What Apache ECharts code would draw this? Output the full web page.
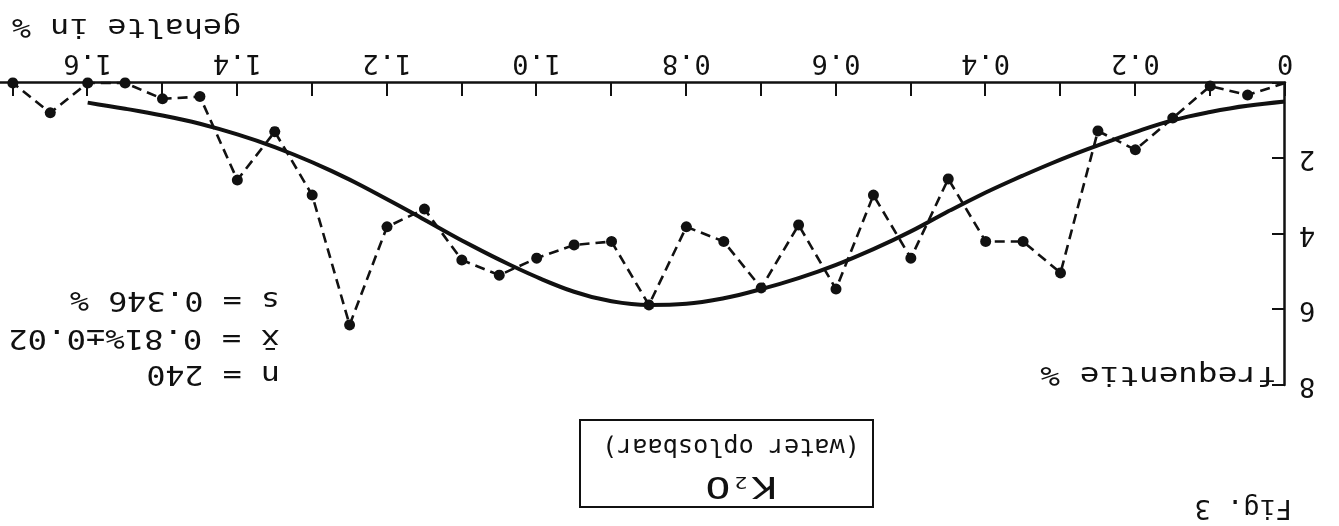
<!DOCTYPE html>
<html>
<head>
<meta charset="utf-8">
<script src="https://cdn.jsdelivr.net/npm/echarts@6/dist/echarts.min.js"></script>
<style>
html,body{margin:0;padding:0;background:#fff;overflow:hidden;}
#c{width:1339px;height:526px;transform:rotate(180deg);}
</style>
</head>
<body>
<div id="c"></div>
<script>
// Observed class midpoints (gehalte in %) and frequencies (%)
const classMid = [0,0.05,0.10,0.15,0.20,0.25,0.30,0.35,0.40,0.45,0.50,0.55,0.60,0.65,0.70,0.75,0.80,0.85,0.90,0.95,1.00,1.05,1.10,1.15,1.20,1.25,1.30,1.35,1.40,1.45,1.50,1.55,1.60,1.65,1.70];
const freq = [0,0.32,0.08,0.93,1.77,1.27,5.03,4.2,4.2,2.54,4.64,2.97,5.46,3.76,5.43,4.2,3.81,5.88,4.2,4.29,4.64,5.09,4.69,3.34,3.81,6.41,2.97,1.29,2.57,0.36,0.42,0,0,0.79,0];
// Fitted curve
const curveX = [0,0.05,0.10,0.15,0.20,0.25,0.30,0.35,0.40,0.45,0.50,0.55,0.60,0.65,0.70,0.75,0.80,0.85,0.90,0.95,1.00,1.05,1.10,1.15,1.20,1.25,1.30,1.35,1.40,1.45,1.50,1.55,1.60];
const curveY = [0.49,0.6,0.77,0.99,1.3,1.65,2.03,2.45,2.9,3.4,3.93,4.4,4.82,5.17,5.46,5.7,5.85,5.88,5.78,5.53,5.14,4.68,4.17,3.62,3.08,2.56,2.1,1.7,1.36,1.08,0.86,0.68,0.52];
// Tick labels
const xTickLabels = ['0','0.2','0.4','0.6','0.8','1.0','1.2','1.4','1.6'];
const yTickLabels = ['2','4','6','8'];
// Texts
const xName = 'gehalte in %';
const yName = 'frequentie %';
const statLines = ['n = 240', 'x\u0304 = 0.81%\u00b10.02', 's = 0.346 %'];
const boxTitle = ['K', '2', 'O'];
const boxSub = '(water oplosbaar)';
const figLabel = 'Fig. 3';

const FF = '"DejaVu Sans Mono", monospace';
const INK = '#111';

const chart = echarts.init(document.getElementById('c'), null, {renderer: 'canvas'});

function txt(text, x, y, size, align, sx) {
  return {
    type: 'text', x: x, y: y, scaleX: sx || 1, z: 10,
    style: {
      text: text, fontSize: size, fontFamily: FF, fill: INK,
      align: align, textAlign: align, verticalAlign: 'middle', textVerticalAlign: 'middle'
    }
  };
}

const option = {
  backgroundColor: '#fff',
  animation: false,
  grid: {left: 54, right: -62, top: 141, bottom: 83, outerBoundsMode: 'none', containLabel: false},
  xAxis: {
    type: 'value', min: 0, max: 1.8, interval: 0.1,
    axisLine: {show: true, lineStyle: {color: INK, width: 2.5}},
    axisTick: {show: true, inside: true, length: 13, lineStyle: {color: INK, width: 2}},
    axisLabel: {
      margin: 7, fontSize: 27, fontFamily: FF, color: INK,
      formatter: function (v) {
        const k = Math.round(v * 10);
        if (Math.abs(v * 10 - k) > 1e-6 || k % 2 !== 0) return '';
        return xTickLabels[k / 2] || '';
      }
    },
    splitLine: {show: false}
  },
  yAxis: {
    type: 'value', min: 0, max: 8, interval: 2,
    axisLine: {show: true, lineStyle: {color: INK, width: 2.5}},
    axisTick: {show: true, inside: true, length: 13, lineStyle: {color: INK, width: 2}},
    axisLabel: {
      margin: 14, fontSize: 27, fontFamily: FF, color: INK,
      formatter: function (v) {
        const k = Math.round(v / 2);
        return k === 0 ? '' : (yTickLabels[k - 1] || '');
      }
    },
    splitLine: {show: false}
  },
  series: [
    {
      type: 'line', smooth: 0.4, showSymbol: false, symbol: 'none', clip: false,
      lineStyle: {color: INK, width: 4},
      data: curveX.map((x, i) => [x, curveY[i]]),
      z: 3
    },
    {
      type: 'line', symbol: 'circle', symbolSize: 11, clip: false,
      lineStyle: {color: INK, width: 2.6, type: [10, 6]},
      itemStyle: {color: INK},
      data: classMid.map((x, i) => i === 0 ? {value: [x, freq[i]], symbol: 'none'} : [x, freq[i]]),
      z: 4
    }
  ],
  graphic: [
    txt(xName, 1327, 500, 26, 'right', 1.22),
    txt(yName, 62, 152, 26, 'left', 1.26),
    txt(statLines[0], 1059, 153, 26, 'left', 1.22),
    txt(statLines[1], 1059, 189, 26, 'left', 1.24),
    txt(statLines[2], 1059, 227, 26, 'left', 1.22),
    {
      type: 'rect', z: 10,
      shape: {x: 466, y: 19, width: 293, height: 87},
      style: {fill: 'none', stroke: INK, lineWidth: 2}
    },
    {
      type: 'text', x: 598, y: 41, z: 10, scaleX: 1.35,
      style: {
        text: '{a|' + boxTitle[0] + '}{b|' + boxTitle[1] + '}{a|' + boxTitle[2] + '}',
        align: 'center', textAlign: 'center', verticalAlign: 'middle', textVerticalAlign: 'middle',
        fill: INK,
        rich: {
          a: {fontSize: 31, fontFamily: FF, fill: INK, color: INK},
          b: {fontSize: 16, fontFamily: FF, fill: INK, color: INK, verticalAlign: 'bottom', padding: [0, 3, 4, 3]}
        }
      }
    },
    txt(boxSub, 608, 81, 24, 'center', 1.05),
    txt(figLabel, 47, 19, 27, 'left', 1.0)
  ]
};
chart.setOption(option);
</script>
</body>
</html>
